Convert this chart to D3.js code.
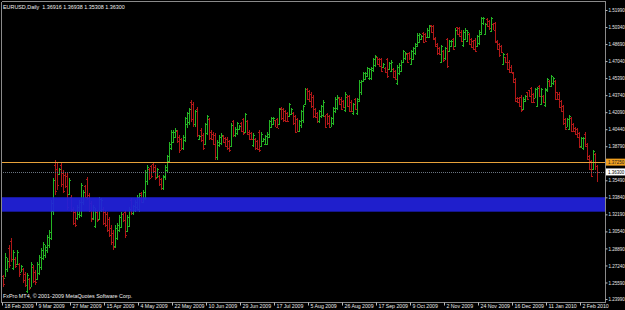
<!DOCTYPE html>
<html><head><meta charset="utf-8">
<script src="https://cdn.jsdelivr.net/npm/d3@7"></script>
<style>html,body{margin:0;padding:0;background:#000;overflow:hidden}svg{display:block}</style>
</head><body>
<svg id="c" width="625" height="310"></svg>
<script>
const symbol = "EURUSD,Daily";
const lastQuote = [1.36916, 1.36938, 1.35308, 1.36300];
const copyright = "FxPro MT4, © 2001-2009 MetaQuotes Software Corp.";
// daily bars: [open, high, low, close]
const bars = [
[1.2620,1.2631,1.2515,1.2545],[1.2600,1.2844,1.2612,1.2810],[1.2690,1.2796,1.2660,1.2770],[1.2890,1.2922,1.2699,1.2730],
[1.2960,1.2990,1.2757,1.2790],[1.2700,1.2874,1.2680,1.2850],[1.2790,1.2806,1.2699,1.2720],[1.2740,1.2874,1.2728,1.2850],
[1.2740,1.2748,1.2612,1.2640],[1.2665,1.2728,1.2660,1.2715],[1.2690,1.2699,1.2554,1.2580],[1.2640,1.2660,1.2515,1.2530],
[1.2480,1.2651,1.2457,1.2630],[1.2590,1.2602,1.2486,1.2510],[1.2520,1.2757,1.2515,1.2740],[1.2710,1.2728,1.2554,1.2570],
[1.2660,1.2680,1.2534,1.2560],[1.2590,1.2757,1.2583,1.2740],[1.2650,1.2825,1.2631,1.2810],[1.2710,1.2893,1.2680,1.2870],
[1.2800,1.2951,1.2777,1.2930],[1.2830,1.2922,1.2796,1.2900],[1.2870,1.3019,1.2844,1.3000],[1.2920,1.3067,1.2893,1.3050],
[1.2990,1.3358,1.2970,1.3330],[1.3250,1.3571,1.3213,1.3550],[1.3700,1.3746,1.3406,1.3450],[1.3660,1.3726,1.3455,1.3500],
[1.3610,1.3668,1.3600,1.3655],[1.3700,1.3726,1.3484,1.3510],[1.3620,1.3649,1.3426,1.3450],[1.3600,1.3629,1.3474,1.3490],
[1.3590,1.3620,1.3261,1.3290],[1.3420,1.3571,1.3406,1.3550],[1.3390,1.3406,1.3242,1.3260],[1.3270,1.3290,1.3116,1.3140],
[1.3240,1.3261,1.3096,1.3120],[1.3180,1.3310,1.3164,1.3290],[1.3220,1.3358,1.3184,1.3340],[1.3210,1.3523,1.3193,1.3500],
[1.3340,1.3455,1.3310,1.3440],[1.3490,1.3503,1.3377,1.3390],[1.3560,1.3581,1.3358,1.3380],[1.3410,1.3426,1.3242,1.3260],
[1.3330,1.3349,1.3145,1.3170],[1.3180,1.3310,1.3164,1.3290],[1.3110,1.3280,1.3087,1.3260],[1.3240,1.3261,1.3145,1.3160],
[1.3170,1.3387,1.3164,1.3370],[1.3260,1.3377,1.3242,1.3360],[1.3270,1.3290,1.3116,1.3140],[1.3240,1.3261,1.3096,1.3120],
[1.3220,1.3242,1.3048,1.3070],[1.3170,1.3193,1.3000,1.3020],[1.3090,1.3116,1.2922,1.2950],[1.3040,1.3067,1.2874,1.2900],
[1.2910,1.3116,1.2893,1.3090],[1.2990,1.3135,1.2970,1.3120],[1.3070,1.3213,1.3048,1.3190],[1.3100,1.3242,1.3087,1.3220],
[1.3220,1.3232,1.3145,1.3160],[1.3240,1.3261,1.2990,1.3020],[1.3060,1.3213,1.3048,1.3190],[1.3110,1.3290,1.3096,1.3270],
[1.3360,1.3377,1.3213,1.3230],[1.3230,1.3310,1.3213,1.3300],[1.3260,1.3358,1.3242,1.3340],[1.3290,1.3406,1.3261,1.3390],
[1.3270,1.3426,1.3242,1.3410],[1.3430,1.3436,1.3329,1.3340],[1.3340,1.3455,1.3329,1.3440],[1.3380,1.3649,1.3358,1.3630],
[1.3540,1.3697,1.3503,1.3680],[1.3660,1.3668,1.3552,1.3570],[1.3690,1.3697,1.3571,1.3590],[1.3710,1.3726,1.3620,1.3640],
[1.3680,1.3697,1.3552,1.3570],[1.3580,1.3668,1.3571,1.3655],[1.3590,1.3600,1.3494,1.3510],[1.3560,1.3571,1.3455,1.3470],
[1.3470,1.3600,1.3455,1.3590],[1.3580,1.3697,1.3552,1.3680],[1.3650,1.3794,1.3629,1.3780],[1.3740,1.3920,1.3726,1.3900],
[1.3860,1.4036,1.3843,1.4020],[1.3920,1.4036,1.3910,1.4020],[1.3970,1.4056,1.3959,1.4040],[1.4030,1.4036,1.3910,1.3930],
[1.3970,1.3988,1.3814,1.3840],[1.3950,1.3959,1.3843,1.3860],[1.3860,1.3988,1.3843,1.3970],[1.3940,1.4162,1.3920,1.4150],
[1.4090,1.4211,1.4056,1.4200],[1.4110,1.4250,1.4085,1.4240],[1.4310,1.4327,1.4114,1.4140],[1.4290,1.4308,1.4065,1.4090],
[1.4090,1.4230,1.4065,1.4220],[1.4240,1.4259,1.3969,1.3990],[1.3950,1.3988,1.3939,1.3980],[1.4040,1.4056,1.3920,1.3940],
[1.3990,1.4007,1.3843,1.3860],[1.3900,1.4104,1.3891,1.4090],[1.4010,1.4182,1.3988,1.4170],[1.4140,1.4153,1.3939,1.3960],
[1.4020,1.4036,1.3939,1.3950],[1.4000,1.4017,1.3891,1.3900],[1.3990,1.4007,1.3746,1.3770],[1.3770,1.3939,1.3746,1.3920],
[1.3890,1.3988,1.3872,1.3970],[1.3910,1.4007,1.3891,1.3990],[1.3980,1.3988,1.3910,1.3920],[1.3960,1.3969,1.3872,1.3880],
[1.3950,1.3969,1.3843,1.3860],[1.3930,1.3939,1.3823,1.3840],[1.3880,1.4104,1.3872,1.4080],[1.4120,1.4133,1.3969,1.3990],
[1.3990,1.4065,1.3969,1.4050],[1.4010,1.4114,1.3988,1.4100],[1.4050,1.4085,1.4036,1.4075],[1.4100,1.4114,1.4017,1.4030],
[1.4140,1.4153,1.3988,1.4010],[1.4020,1.4201,1.4007,1.4190],[1.4120,1.4133,1.3988,1.4000],[1.4020,1.4036,1.3939,1.3950],
[1.4010,1.4017,1.3939,1.3950],[1.3890,1.4007,1.3872,1.3990],[1.3950,1.3959,1.3843,1.3860],[1.3930,1.3939,1.3843,1.3850],
[1.4020,1.4036,1.3823,1.3840],[1.3880,1.4017,1.3872,1.4000],[1.3930,1.3959,1.3920,1.3950],[1.3900,1.3988,1.3891,1.3980],
[1.3900,1.4017,1.3891,1.4000],[1.3970,1.4133,1.3959,1.4120],[1.4070,1.4162,1.4056,1.4150],[1.4090,1.4162,1.4085,1.4150],
[1.4130,1.4133,1.4065,1.4070],[1.4140,1.4153,1.4056,1.4060],[1.4090,1.4250,1.4085,1.4240],[1.4250,1.4259,1.4133,1.4150],
[1.4240,1.4250,1.4114,1.4130],[1.4220,1.4230,1.4114,1.4120],[1.4200,1.4211,1.4114,1.4120],[1.4170,1.4298,1.4162,1.4290],
[1.4190,1.4250,1.4182,1.4240],[1.4200,1.4211,1.4085,1.4100],[1.4170,1.4182,1.4007,1.4020],[1.4140,1.4153,1.4017,1.4030],
[1.4030,1.4133,1.4017,1.4120],[1.4080,1.4230,1.4056,1.4220],[1.4130,1.4279,1.4104,1.4270],[1.4290,1.4443,1.4279,1.4430],
[1.4430,1.4443,1.4327,1.4340],[1.4410,1.4424,1.4308,1.4320],[1.4390,1.4405,1.4250,1.4270],[1.4360,1.4375,1.4153,1.4170],
[1.4240,1.4250,1.4153,1.4160],[1.4200,1.4211,1.4104,1.4120],[1.4120,1.4230,1.4104,1.4220],[1.4170,1.4279,1.4153,1.4270],
[1.4180,1.4327,1.4162,1.4310],[1.4170,1.4182,1.4056,1.4070],[1.4190,1.4201,1.4085,1.4100],[1.4170,1.4182,1.4056,1.4070],
[1.4070,1.4162,1.4065,1.4150],[1.4100,1.4259,1.4085,1.4250],[1.4220,1.4356,1.4201,1.4340],[1.4250,1.4375,1.4230,1.4360],
[1.4350,1.4356,1.4279,1.4290],[1.4340,1.4356,1.4230,1.4240],[1.4320,1.4327,1.4250,1.4260],[1.4230,1.4405,1.4211,1.4390],
[1.4360,1.4375,1.4259,1.4270],[1.4370,1.4375,1.4211,1.4220],[1.4310,1.4327,1.4211,1.4220],[1.4200,1.4298,1.4182,1.4290],
[1.4340,1.4346,1.4230,1.4240],[1.4200,1.4346,1.4182,1.4340],[1.4320,1.4521,1.4308,1.4500],[1.4400,1.4521,1.4375,1.4510],
[1.4510,1.4598,1.4501,1.4590],[1.4530,1.4598,1.4521,1.4590],[1.4560,1.4647,1.4550,1.4640],[1.4540,1.4637,1.4521,1.4630],
[1.4540,1.4647,1.4521,1.4640],[1.4620,1.4734,1.4598,1.4720],[1.4670,1.4763,1.4647,1.4750],[1.4740,1.4744,1.4666,1.4680],
[1.4720,1.4734,1.4647,1.4660],[1.4720,1.4734,1.4598,1.4610],[1.4650,1.4686,1.4637,1.4680],[1.4640,1.4647,1.4589,1.4600],
[1.4720,1.4734,1.4540,1.4560],[1.4630,1.4695,1.4618,1.4690],[1.4610,1.4715,1.4598,1.4700],[1.4630,1.4637,1.4540,1.4550],
[1.4610,1.4618,1.4521,1.4530],[1.4490,1.4666,1.4472,1.4650],[1.4590,1.4686,1.4569,1.4670],[1.4610,1.4715,1.4598,1.4700],
[1.4700,1.4811,1.4686,1.4800],[1.4730,1.4792,1.4715,1.4780],[1.4770,1.4782,1.4686,1.4700],[1.4780,1.4792,1.4715,1.4730],
[1.4680,1.4811,1.4666,1.4800],[1.4720,1.4841,1.4715,1.4830],[1.4780,1.4879,1.4763,1.4870],[1.4850,1.4976,1.4841,1.4960],
[1.4890,1.4976,1.4879,1.4965],[1.4915,1.4957,1.4908,1.4950],[1.4980,1.4986,1.4879,1.4890],[1.4970,1.4976,1.4889,1.4900],
[1.4940,1.5025,1.4928,1.5010],[1.4940,1.5054,1.4928,1.5040],[1.5050,1.5054,1.4976,1.4990],[1.5040,1.5054,1.4908,1.4920],
[1.4930,1.4937,1.4841,1.4850],[1.4870,1.4879,1.4763,1.4780],[1.4830,1.4841,1.4763,1.4770],[1.4700,1.4860,1.4686,1.4850],
[1.4800,1.4811,1.4695,1.4710],[1.4730,1.4841,1.4715,1.4830],[1.4920,1.4928,1.4637,1.4660],[1.4800,1.4908,1.4792,1.4900],
[1.4850,1.4908,1.4841,1.4900],[1.4920,1.4928,1.4811,1.4820],[1.4850,1.5025,1.4841,1.5010],[1.5030,1.5034,1.4957,1.4970],
[1.5020,1.5034,1.4937,1.4950],[1.4990,1.5005,1.4889,1.4900],[1.4860,1.5005,1.4841,1.4990],[1.4920,1.5025,1.4908,1.5010],
[1.4900,1.5005,1.4889,1.4990],[1.4970,1.4976,1.4860,1.4870],[1.4920,1.4928,1.4831,1.4840],[1.4900,1.4908,1.4811,1.4820],
[1.4910,1.4928,1.4792,1.4800],[1.4850,1.4957,1.4841,1.4950],[1.4880,1.5005,1.4860,1.4990],[1.4970,1.5131,1.4957,1.5120],
[1.5070,1.5131,1.5054,1.5125],[1.4970,1.5073,1.4957,1.5060],[1.5110,1.5122,1.5034,1.5040],[1.5090,1.5102,1.5005,1.5020],
[1.5000,1.5131,1.4986,1.5120],[1.5060,1.5073,1.5005,1.5010],[1.5070,1.5083,1.4879,1.4890],[1.4900,1.4908,1.4811,1.4820],
[1.4870,1.4879,1.4744,1.4760],[1.4850,1.4860,1.4782,1.4790],[1.4680,1.4782,1.4666,1.4770],[1.4740,1.4744,1.4686,1.4700],
[1.4770,1.4782,1.4618,1.4630],[1.4700,1.4715,1.4589,1.4600],[1.4650,1.4666,1.4589,1.4600],[1.4590,1.4598,1.4492,1.4500],
[1.4530,1.4540,1.4308,1.4320],[1.4350,1.4356,1.4298,1.4305],[1.4350,1.4356,1.4259,1.4270],[1.4360,1.4375,1.4211,1.4230],
[1.4240,1.4356,1.4230,1.4340],[1.4320,1.4375,1.4308,1.4365],[1.4400,1.4405,1.4327,1.4335],[1.4420,1.4424,1.4356,1.4365],
[1.4440,1.4453,1.4298,1.4310],[1.4390,1.4395,1.4298,1.4305],[1.4350,1.4443,1.4346,1.4430],[1.4270,1.4453,1.4259,1.4440],
[1.4460,1.4472,1.4356,1.4370],[1.4290,1.4443,1.4279,1.4430],[1.4370,1.4375,1.4298,1.4310],[1.4280,1.4443,1.4259,1.4430],
[1.4420,1.4540,1.4405,1.4530],[1.4510,1.4521,1.4453,1.4460],[1.4460,1.4569,1.4453,1.4560],[1.4490,1.4550,1.4472,1.4540],
[1.4510,1.4521,1.4327,1.4340],[1.4400,1.4405,1.4327,1.4335],[1.4390,1.4405,1.4250,1.4260],[1.4320,1.4327,1.4211,1.4220],
[1.4270,1.4279,1.4085,1.4100],[1.4140,1.4153,1.4036,1.4045],[1.4070,1.4153,1.4065,1.4140],[1.4050,1.4182,1.4036,1.4170],
[1.4150,1.4162,1.4017,1.4030],[1.4090,1.4104,1.4017,1.4025],[1.4060,1.4065,1.3988,1.3995],[1.4050,1.4056,1.3959,1.3970],
[1.4010,1.4017,1.3862,1.3875],[1.3880,1.3969,1.3862,1.3960],[1.3860,1.3969,1.3843,1.3955],[1.4000,1.4017,1.3872,1.3885],
[1.3900,1.3910,1.3746,1.3760],[1.3785,1.3794,1.3649,1.3660],[1.3735,1.3746,1.3581,1.3595],[1.3660,1.3843,1.3649,1.3830],
[1.3800,1.3814,1.3649,1.3690],[1.36916,1.36938,1.35308,1.36300]
];
const dateLabels = ["18 Feb 2009","9 Mar 2009","27 Mar 2009","15 Apr 2009","4 May 2009","22 May 2009","10 Jun 2009","29 Jun 2009","17 Jul 2009","5 Aug 2009","26 Aug 2009","17 Sep 2009","9 Oct 2009","2 Nov 2009","24 Nov 2009","16 Dec 2009","11 Jan 2010","2 Feb 2010"];
const dateLabelBars = [0,17,34,51,68,85,102,119,136,153,170,187,204,221,238,255,272,289];
const priceTicks = [1.51990,1.50340,1.48690,1.47040,1.45390,1.43740,1.42090,1.40440,1.38790,1.35490,1.33840,1.32190,1.30540,1.28890,1.27240,1.25590,1.23990];
const priceMin = 1.23990, priceMax = 1.51990;
const zoneBand = [1.3245, 1.3385];
const userLine = 1.37250;
const bidLine = 1.36300;

const W = 625, H = 310;
const svg = d3.select("#c");
const FONT = "'Liberation Sans', Arial, sans-serif";
const plotR = 605, plotB = 302;
const x = d3.scaleLinear().domain([0, bars.length - 1]).range([3, 597]);
const y = d3.scaleLinear().domain([priceMin, priceMax]).range([299, 10]);

svg.append("rect").attr("width", W).attr("height", H).attr("fill", "#000");

// bars
const UP = "#24b424", DN = "#b01818";
const g = svg.append("g").attr("shape-rendering", "crispEdges");
bars.forEach((b, i) => {
  const [o, h, l, c] = b;
  const col = c >= o ? UP : DN;
  const xi = Math.round(x(i));
  const yh = Math.round(y(h)), yl = Math.round(y(l));
  g.append("rect").attr("x", xi).attr("y", yh).attr("width", 1).attr("height", Math.max(1, yl - yh)).attr("fill", col);
  g.append("rect").attr("x", xi - 1).attr("y", Math.round(y(o))).attr("width", 1).attr("height", 1).attr("fill", col);
  g.append("rect").attr("x", xi + 1).attr("y", Math.round(y(c))).attr("width", 1).attr("height", 1).attr("fill", col);
});

// blue zone rectangle (drawn over the bars)
svg.append("rect").attr("x", 1).attr("width", plotR - 1)
  .attr("y", y(zoneBand[1])).attr("height", y(zoneBand[0]) - y(zoneBand[1]))
  .attr("fill", "#2121dc").attr("fill-opacity", 0.93);

// horizontal lines
svg.append("line").attr("x1", 1).attr("x2", plotR).attr("y1", Math.round(y(userLine)) + 0.5).attr("y2", Math.round(y(userLine)) + 0.5)
  .attr("stroke", "#e8a23a").attr("stroke-width", 1);
svg.append("line").attr("x1", 1).attr("x2", plotR).attr("y1", Math.round(y(bidLine)) + 0.5).attr("y2", Math.round(y(bidLine)) + 0.5)
  .attr("stroke", "#6a7480").attr("stroke-width", 1).attr("stroke-dasharray", "1,1");

// frame
const frame = svg.append("g").attr("stroke", "#8a8a8a").attr("stroke-width", 1).attr("shape-rendering", "crispEdges");
frame.append("line").attr("x1", 1.5).attr("x2", plotR + 0.5).attr("y1", 1.5).attr("y2", 1.5);
frame.append("line").attr("x1", 1.5).attr("x2", 1.5).attr("y1", 1.5).attr("y2", plotB + 0.5);
frame.append("line").attr("x1", plotR + 0.5).attr("x2", plotR + 0.5).attr("y1", 1.5).attr("y2", plotB + 0.5);
frame.append("line").attr("x1", 1.5).attr("x2", plotR + 0.5).attr("y1", plotB + 0.5).attr("y2", plotB + 0.5);

// right price axis
const AXF = 4.5;
const yAxis = d3.axisRight(y).tickValues(priceTicks).tickFormat(d3.format(".5f")).tickSize(2).tickSizeOuter(0);
const ya = svg.append("g").attr("transform", `translate(${plotR + 0.5},0)`).call(yAxis);
ya.select(".domain").remove();
ya.selectAll("line").attr("stroke", "#bbbbbb");
ya.selectAll("text").attr("fill", "#e8e8e8").attr("font-family", FONT).attr("font-size", AXF).attr("x", 3).attr("dy", "0.35em");

// price labels for lines
function priceTag(v, bg, fg) {
  const yy = y(v);
  svg.append("rect").attr("x", plotR + 1).attr("y", yy - 3.5).attr("width", W - plotR - 1).attr("height", 7).attr("fill", bg);
  svg.append("text").attr("x", plotR + 3).attr("y", yy).attr("dy", "0.35em").attr("fill", fg)
    .attr("font-family", FONT).attr("font-size", AXF).text(d3.format(".5f")(v));
}
priceTag(userLine, "#f0a020", "#202020");
priceTag(bidLine, "#ffffff", "#000000");

// bottom date axis
const xAxis = d3.axisBottom(x).tickValues(dateLabelBars).tickFormat((d, i) => dateLabels[i]).tickSize(3).tickSizeOuter(0);
const xa = svg.append("g").attr("transform", `translate(0,${plotB + 0.5})`).call(xAxis);
xa.select(".domain").remove();
xa.selectAll("line").attr("stroke", "#bbbbbb").attr("transform", "translate(-1,0)");
xa.selectAll("text").attr("fill", "#e8e8e8").attr("font-family", FONT).attr("font-size", 5.2)
  .attr("text-anchor", "start").attr("x", 1).attr("y", 2).attr("dy", "0.71em");

// title & copyright
svg.append("text").attr("x", 3).attr("y", 9).attr("fill", "#f0f0f0").attr("font-family", FONT).attr("font-size", 5.4)
  .attr("xml:space", "preserve").text(symbol + "  " + lastQuote.map(d3.format(".5f")).join(" "));
svg.append("text").attr("x", 3).attr("y", 298).attr("fill", "#f0f0f0").attr("font-family", FONT).attr("font-size", 5.4)
  .text(copyright);
</script>
</body></html>
